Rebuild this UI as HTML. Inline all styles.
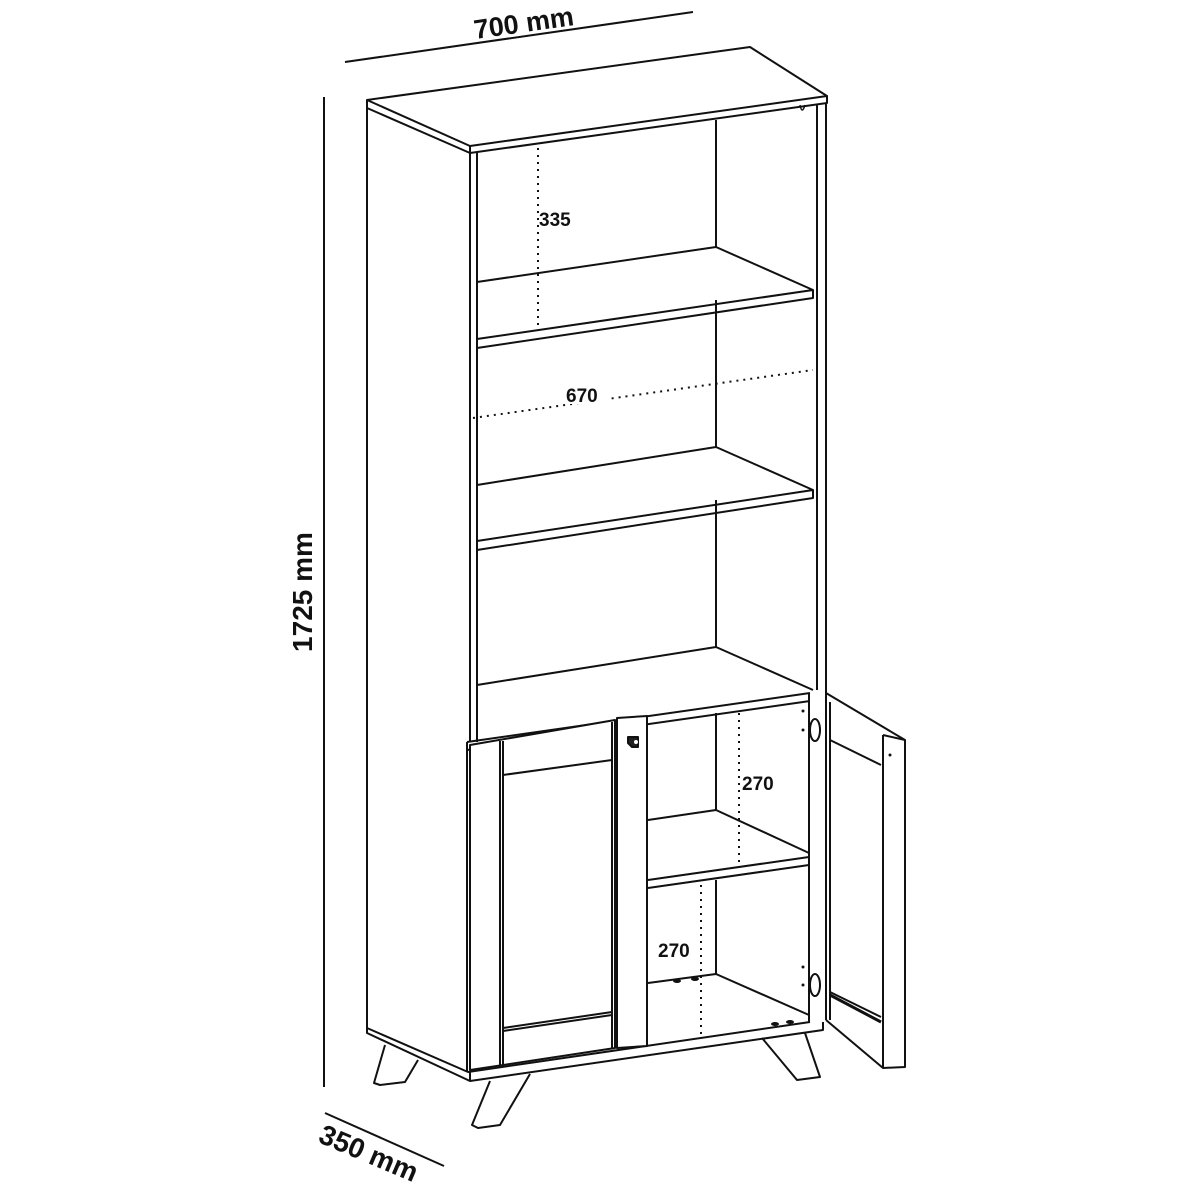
<!DOCTYPE html>
<html><head><meta charset="utf-8"><style>
html,body{margin:0;padding:0;background:#fff;}
svg{display:block;}
text{font-family:"Liberation Sans",Arial,sans-serif;font-weight:bold;fill:#111;}
</style></head><body>
<svg width="1200" height="1200" viewBox="0 0 1200 1200" xmlns="http://www.w3.org/2000/svg">
<g fill="none" stroke="#111" stroke-width="2" stroke-linejoin="round">
<line x1="345" y1="62" x2="693" y2="12"/>
<line x1="324" y1="97" x2="324" y2="1087"/>
<line x1="325" y1="1113" x2="444" y2="1166"/>
<polygon points="367,100 750,47 827,96 470,146" fill="#fff"/>
<polyline points="367,100 367,108 470,153 827,103 827,96"/>
<line x1="470" y1="146" x2="470" y2="153"/>
<line x1="367" y1="108" x2="367" y2="1028"/>
<line x1="470" y1="153" x2="470" y2="742"/>
<line x1="477" y1="152" x2="477" y2="742"/>
<line x1="817" y1="104" x2="817" y2="690"/>
<line x1="826" y1="103" x2="826" y2="693"/>
<path d="M800,105 q2,10 5,0" stroke-width="1.5"/>
<line x1="716" y1="120" x2="716" y2="247"/>
<line x1="716" y1="300" x2="716" y2="447"/>
<line x1="716" y1="500" x2="716" y2="647"/>
<polyline points="477,282 716,247 813,290"/>
<polyline points="477,339 813,290 813,298 477,348"/>
<polyline points="477,485 716,447 813,490"/>
<polyline points="477,541 813,490 813,498 477,550"/>
<polyline points="477,685 716,647 813,690"/>
<polyline points="467,742 810,693"/>
<polyline points="467,750 810,701"/>
<line x1="467" y1="742" x2="467" y2="1072"/>
<polyline points="367,1028 468,1072 810,1022"/>
<polyline points="367,1028 367,1033 470,1081 823,1030 823,1022"/>
<line x1="470" y1="1072" x2="470" y2="1081"/>
<polygon points="470,745 615,720 615,1048 470,1070" fill="#fff"/>
<line x1="500" y1="741" x2="500" y2="1066"/>
<line x1="503" y1="741" x2="503" y2="1066"/>
<line x1="612" y1="722" x2="612" y2="1049"/>
<line x1="503" y1="775" x2="612" y2="760"/>
<line x1="503" y1="1028" x2="612" y2="1012"/>
<line x1="503" y1="1031" x2="612" y2="1015"/>
<polygon points="617,718 647,716 647,1046 617,1048" fill="#fff"/>
<path d="M628,737 h10 v10 h-6 l-4,-4 z" fill="#222"/>
<circle cx="636" cy="742" r="2" fill="#fff" stroke="none"/>
<line x1="716" y1="713" x2="716" y2="810"/>
<polyline points="648,820 716,810 809,853"/>
<polyline points="648,880 809,857 809,865 648,888"/>
<line x1="716" y1="880" x2="716" y2="974"/>
<polyline points="648,983 716,974 809,1015"/>
<line x1="809" y1="693" x2="809" y2="1022"/>
<line x1="826" y1="693" x2="826" y2="1020"/>
<ellipse cx="815" cy="730" rx="5" ry="11"/>
<ellipse cx="815" cy="985" rx="5" ry="11"/>
<polyline points="826,693 905,740 905,1067 883,1068 826,1020"/>
<line x1="883" y1="735" x2="883" y2="1068"/>
<line x1="883" y1="735" x2="905" y2="740"/>
<line x1="830" y1="702" x2="830" y2="1020"/>
<line x1="830" y1="740" x2="881" y2="765"/>
<line x1="830" y1="992" x2="881" y2="1017"/>
<line x1="830" y1="995" x2="881" y2="1022" stroke-width="3"/>
<polyline points="385,1045 374,1083 380,1085 405,1082 418,1060"/>
<polyline points="490,1081 472,1125 478,1128 500,1125 530,1074"/>
<polyline points="762,1038 797,1080 820,1077 805,1033"/>
</g>
<g fill="#111">
<circle cx="803" cy="711" r="1.5"/><circle cx="803" cy="730" r="1.5"/>
<circle cx="803" cy="967" r="1.5"/><circle cx="803" cy="985" r="1.5"/>
<circle cx="890" cy="755" r="1.5"/>
<ellipse cx="677" cy="981" rx="4" ry="2"/><ellipse cx="695" cy="979" rx="4" ry="2"/>
<ellipse cx="775" cy="1024" rx="4" ry="2"/><ellipse cx="790" cy="1022" rx="4" ry="2"/>
</g>
<g stroke="#111" stroke-width="2" stroke-dasharray="2,5" fill="none">
<line x1="538" y1="148" x2="538" y2="330"/>
<line x1="473" y1="418" x2="813" y2="370"/>
<line x1="739" y1="713" x2="739" y2="865"/>
<line x1="701" y1="885" x2="701" y2="1036"/>
</g>
<text x="539" y="226" font-size="19">335</text>
<rect x="565" y="384" width="42" height="20" fill="#fff"/>
<text x="566" y="402" font-size="19">670</text>
<text x="742" y="790" font-size="19">270</text>
<text x="658" y="957" font-size="19">270</text>
<text x="525" y="32" font-size="27" text-anchor="middle" transform="rotate(-8 525 32)">700 mm</text>
<text x="312" y="592" font-size="28" text-anchor="middle" transform="rotate(-90 312 592)">1725 mm</text>
<text x="365" y="1162" font-size="28" text-anchor="middle" transform="rotate(23 365 1162)">350 mm</text>
</svg>
</body></html>
